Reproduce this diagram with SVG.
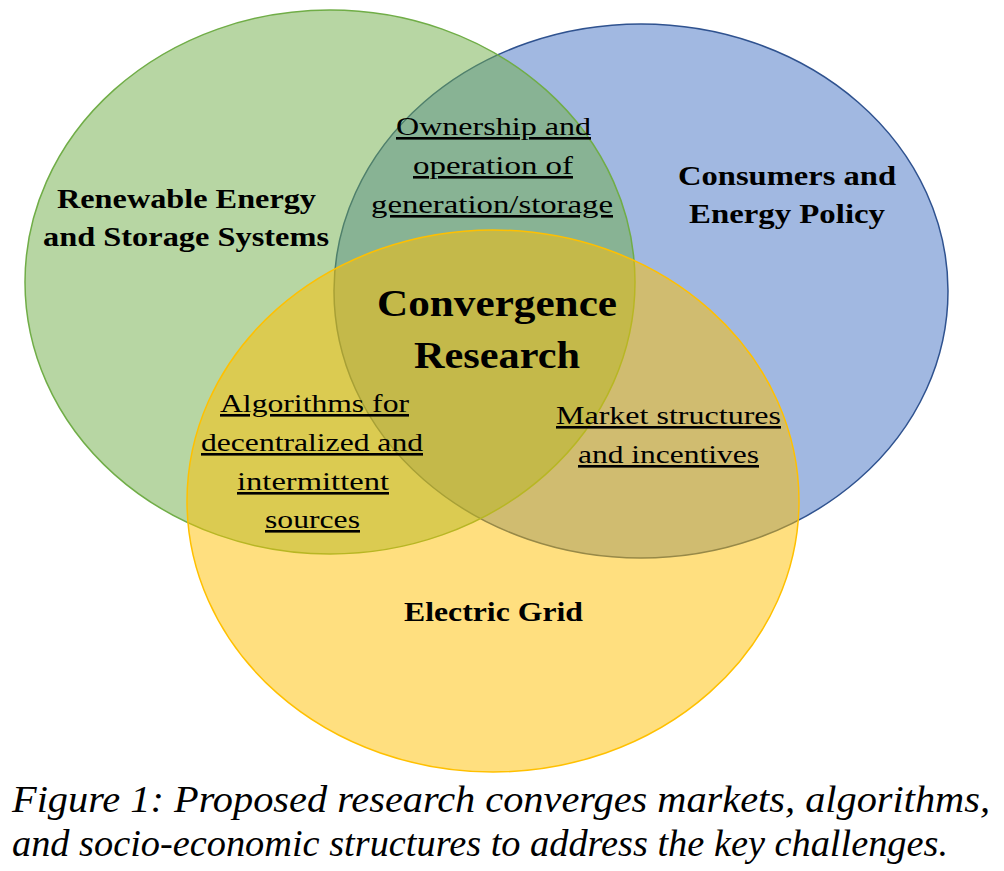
<svg xmlns="http://www.w3.org/2000/svg" width="1004" height="871" viewBox="0 0 1004 871">
<style>
text{font-family:'Liberation Serif','Times New Roman',serif;fill:#000}
.b{font-weight:bold;text-anchor:middle}
.u{text-anchor:middle;text-decoration:underline;font-size:26px}
.cap{font-style:italic;font-size:38px}
</style>
<rect width="1004" height="871" fill="#fff"/>
<g id="consumers">
<ellipse cx="641" cy="291" rx="307" ry="267" fill="#4472c4" fill-opacity="0.5" stroke="#2f528f" stroke-width="1.5"/>
</g>
<g id="renewable">
<ellipse cx="330" cy="282" rx="305" ry="272" fill="#70ad47" fill-opacity="0.5" stroke="#70ad47" stroke-width="1.5"/>
</g>
<g id="grid">
<ellipse cx="493" cy="501" rx="306" ry="271" fill="#ffc000" fill-opacity="0.5" stroke="#ffc000" stroke-width="1.5"/>
</g>
<g id="labels">
<text class="b" font-size="27" x="186.5" y="208" textLength="259" lengthAdjust="spacingAndGlyphs">Renewable Energy</text>
<text class="b" font-size="27" x="186" y="246" textLength="286" lengthAdjust="spacingAndGlyphs">and Storage Systems</text>
<text class="b" font-size="27" x="787" y="185" textLength="218" lengthAdjust="spacingAndGlyphs">Consumers and</text>
<text class="b" font-size="27" x="787" y="223" textLength="196" lengthAdjust="spacingAndGlyphs">Energy Policy</text>
<text class="b" font-size="27" x="493.5" y="621" textLength="179" lengthAdjust="spacingAndGlyphs">Electric Grid</text>
<text class="b" font-size="37" x="497" y="316" textLength="240" lengthAdjust="spacingAndGlyphs">Convergence</text>
<text class="b" font-size="37" x="497" y="368" textLength="166" lengthAdjust="spacingAndGlyphs">Research</text>
<text class="u" x="493.5" y="135" textLength="195" lengthAdjust="spacingAndGlyphs">Ownership and</text>
<text class="u" x="493" y="174" textLength="160" lengthAdjust="spacingAndGlyphs">operation of</text>
<text class="u" x="492" y="213" textLength="242" lengthAdjust="spacingAndGlyphs">generation/storage</text>
<text class="u" x="314.5" y="412" textLength="189" lengthAdjust="spacingAndGlyphs">Algorithms for</text>
<text class="u" x="312" y="451" textLength="222" lengthAdjust="spacingAndGlyphs">decentralized and</text>
<text class="u" x="313" y="490" textLength="152" lengthAdjust="spacingAndGlyphs">intermittent</text>
<text class="u" x="312.5" y="528" textLength="95" lengthAdjust="spacingAndGlyphs">sources</text>
<text class="u" x="668.5" y="424" textLength="225" lengthAdjust="spacingAndGlyphs">Market structures</text>
<text class="u" x="668.5" y="463" textLength="181" lengthAdjust="spacingAndGlyphs">and incentives</text>
</g>
<g id="caption">
<text class="cap" x="12" y="812" textLength="978" lengthAdjust="spacingAndGlyphs">Figure 1: Proposed research converges markets, algorithms,</text>
<text class="cap" x="12" y="856" textLength="936" lengthAdjust="spacingAndGlyphs">and socio-economic structures to address the key challenges.</text>
</g>
</svg>
